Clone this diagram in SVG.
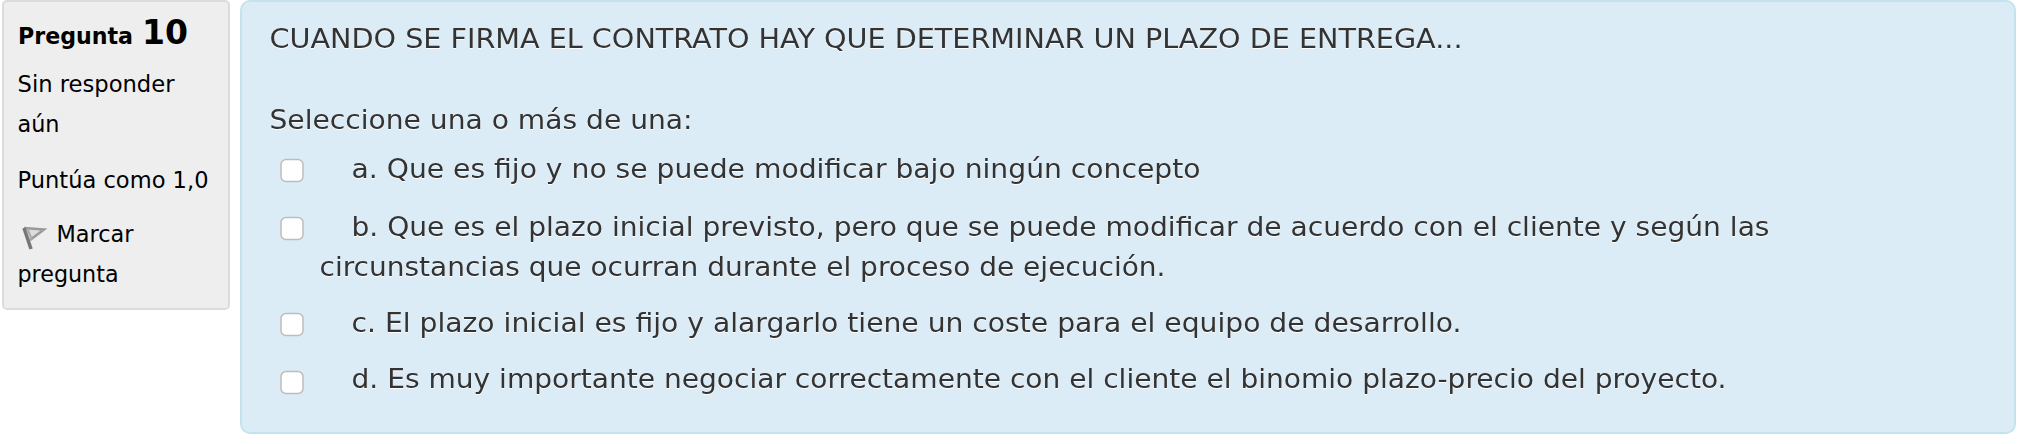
<svg xmlns="http://www.w3.org/2000/svg" width="2026" height="444" viewBox="0 0 2026 444">
<defs><filter id="soft" x="-20%" y="-20%" width="140%" height="140%"><feGaussianBlur stdDeviation="0.7"/></filter></defs>
<style>
text{font-family:"DejaVu Sans",Verdana,sans-serif}
.q{font-size:26.6px;fill:#333;filter:drop-shadow(0 1px 0 #fff)}
.s{font-size:22.8px;fill:#000}
.c{fill:#fff;stroke:#bdbdbd;stroke-width:1.5}
</style>
<rect width="2026" height="444" fill="#fff"/>
<g id="info">
<rect x="3" y="1" width="226" height="308" rx="4" fill="#eee" stroke="#dcdcdc" stroke-width="2"/>
<text x="18" y="44" font-size="22.8" font-weight="700" textLength="115" lengthAdjust="spacingAndGlyphs">Pregunta</text>
<text x="142" y="44" font-size="34" font-weight="700" textLength="46" lengthAdjust="spacingAndGlyphs">10</text>
<text class="s" x="17.500" y="92" textLength="157" lengthAdjust="spacingAndGlyphs">Sin responder</text>
<text class="s" x="17.500" y="132" textLength="42" lengthAdjust="spacingAndGlyphs">aún</text>
<text class="s" x="17.500" y="188" textLength="191" lengthAdjust="spacingAndGlyphs">Puntúa como 1,0</text>
<g filter="url(#soft)">
<path d="M24 228L44 229.500L30 240" fill="#dcdcdc" stroke="#999" stroke-width="2.500"/>
<path d="M27.500 229L32 240" fill="none" stroke="#aaa" stroke-width="2"/>
<path d="M24 228L31 249" fill="none" stroke="#777" stroke-width="3.500"/>
</g>
<text class="s" x="56.500" y="242" textLength="77" lengthAdjust="spacingAndGlyphs">Marcar</text>
<text class="s" x="17.500" y="282" textLength="101" lengthAdjust="spacingAndGlyphs">pregunta</text>
</g>
<g id="question">
<rect x="241" y="1" width="1774" height="432" rx="9" fill="#dcecf6" stroke="#c3e4ee" stroke-width="2"/>
<text class="q" x="269.500" y="48" textLength="1193" lengthAdjust="spacingAndGlyphs">CUANDO SE FIRMA EL CONTRATO HAY QUE DETERMINAR UN PLAZO DE ENTREGA...</text>
<text class="q" x="269.500" y="129" textLength="423" lengthAdjust="spacingAndGlyphs">Seleccione una o más de una:</text>
</g>
<g id="opt-a"><rect class="c" x="281" y="159.500" width="22" height="22" rx="5"/>
<text class="q" x="351.500" y="178" textLength="849" lengthAdjust="spacingAndGlyphs">a. Que es fijo y no se puede modificar bajo ningún concepto</text></g>
<g id="opt-b"><rect class="c" x="281" y="217.500" width="22" height="22" rx="5"/>
<text class="q" x="351.500" y="236" textLength="1418" lengthAdjust="spacingAndGlyphs">b. Que es el plazo inicial previsto, pero que se puede modificar de acuerdo con el cliente y según las</text>
<text class="q" x="319.500" y="276" textLength="846" lengthAdjust="spacingAndGlyphs">circunstancias que ocurran durante el proceso de ejecución.</text></g>
<g id="opt-c"><rect class="c" x="281" y="313.500" width="22" height="22" rx="5"/>
<text class="q" x="351.500" y="332" textLength="1110" lengthAdjust="spacingAndGlyphs">c. El plazo inicial es fijo y alargarlo tiene un coste para el equipo de desarrollo.</text></g>
<g id="opt-d"><rect class="c" x="281" y="371.500" width="22" height="22" rx="5"/>
<text class="q" x="351.500" y="388" textLength="1375" lengthAdjust="spacingAndGlyphs">d. Es muy importante negociar correctamente con el cliente el binomio plazo-precio del proyecto.</text></g>
</svg>
